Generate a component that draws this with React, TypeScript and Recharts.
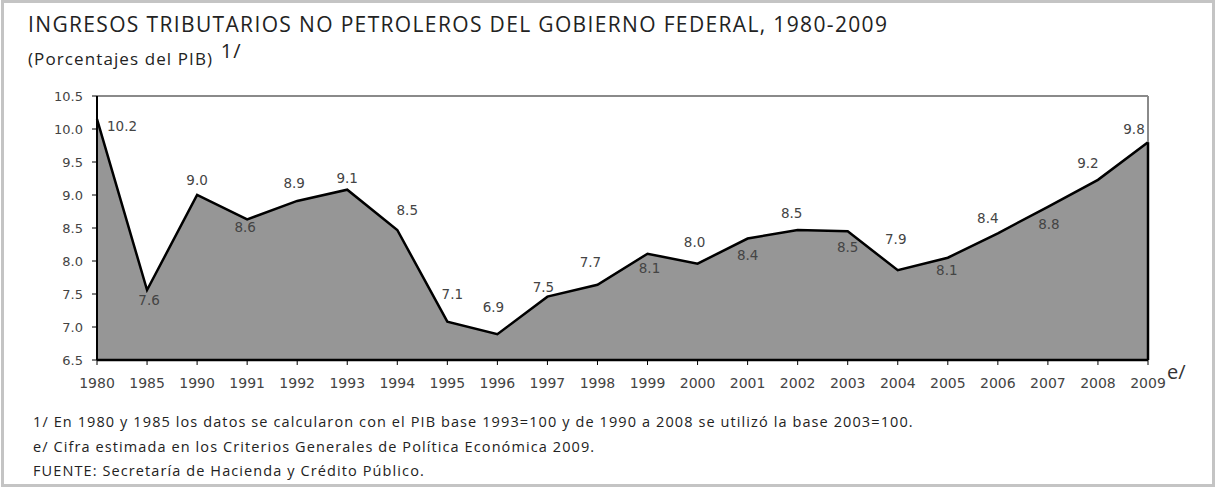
import { AreaChart, Area, XAxis, YAxis, ReferenceLine, LabelList } from 'recharts';

const YEARS = ['1980', '1985', '1990', '1991', '1992', '1993', '1994', '1995', '1996', '1997', '1998', '1999', '2000', '2001', '2002', '2003', '2004', '2005', '2006', '2007', '2008', '2009'];
const VALUES = [10.15, 7.56, 9.0, 8.63, 8.91, 9.08, 8.47, 7.08, 6.89, 7.46, 7.64, 8.11, 7.96, 8.34, 8.47, 8.45, 7.86, 8.05, 8.42, 8.82, 9.23, 9.8];
const LABELS = ['10.2', '7.6', '9.0', '8.6', '8.9', '9.1', '8.5', '7.1', '6.9', '7.5', '7.7', '8.1', '8.0', '8.4', '8.5', '8.5', '7.9', '8.1', '8.4', '8.8', '9.2', '9.8'];
const Y_TICKS = [6.5, 7.0, 7.5, 8.0, 8.5, 9.0, 9.5, 10.0, 10.5];

// where each value label sits, relative to its point (dx, dy)
const LABEL_OFFSETS = [
  [25, 7], [2, 10], [0, -15], [-2, 8], [-3, -18], [0, -12], [10, -20], [5, -28], [-4, -27], [-4, -10], [-7, -23],
  [2, 14], [-3, -22], [0, 16], [-6, -17], [0, 16], [-2, -31], [-1, 12], [-10, -15], [1, 17], [-10, -17], [-14, -13],
];

const FOOTNOTES = [
  '1/ En 1980 y 1985 los datos se calcularon con el PIB base 1993=100 y de 1990 a 2008 se utilizó la base 2003=100.',
  'e/ Cifra estimada en los Criterios Generales de Política Económica 2009.',
  'FUENTE: Secretaría de Hacienda y Crédito Público.',
];

const data = YEARS.map((year, i) => ({ year, value: VALUES[i], label: LABELS[i] }));
const TEXT_FONT = '"Open Sans", "Noto Sans", sans-serif';
const AXIS_FONT = '"DejaVu Sans", sans-serif';

const valueLabel = (props: any) => {
  const { x, y, index } = props;
  const [dx, dy] = LABEL_OFFSETS[index] || [0, -12];
  return (
    <text x={x + dx} y={y + dy} dy={5} textAnchor="middle" fontSize={13.5} fontFamily={AXIS_FONT} fill="#444">
      {LABELS[index]}
    </text>
  );
};

const yearTick = (props: any) => {
  const { x, y, payload } = props;
  return (
    <g>
      <text x={x} y={y} dy={21} textAnchor="middle" fontSize={14} fontFamily={AXIS_FONT} fill="#444">
        {payload.value}
      </text>
      {payload.value === '2009' && (
        <text x={x + 19} y={y} dy={12} fontSize={20} fontFamily={TEXT_FONT} fill="#333">
          e/
        </text>
      )}
    </g>
  );
};

export default function App() {
  return (
    <div
      style={{
        position: 'absolute',
        left: 0,
        top: 0,
        width: 1216,
        height: 487,
        background: '#fff',
        fontFamily: TEXT_FONT,
        color: '#222',
      }}
    >
      <div
        style={{
          position: 'absolute',
          left: 1,
          top: 0,
          width: 1214,
          height: 487,
          border: '3px solid #c4c4c4',
          boxSizing: 'border-box',
        }}
      />
      <div
        style={{
          position: 'absolute',
          left: 28,
          top: 11,
          fontSize: 21,
          letterSpacing: 1.35,
          whiteSpace: 'nowrap',
          lineHeight: '27px',
        }}
      >
        INGRESOS TRIBUTARIOS NO PETROLEROS DEL GOBIERNO FEDERAL, 1980-2009
      </div>
      <div
        style={{
          position: 'absolute',
          left: 28,
          top: 46,
          fontSize: 17,
          letterSpacing: 1.1,
          whiteSpace: 'nowrap',
          lineHeight: '24px',
        }}
      >
        (Porcentajes del PIB) <span style={{ fontSize: 20, position: 'relative', top: -7, marginLeft: 2 }}>1/</span>
      </div>

      <div style={{ position: 'absolute', left: 0, top: 0 }}>
        <AreaChart width={1216} height={400} data={data} margin={{ top: 96, right: 68, bottom: 10, left: 37 }}>
          <XAxis
            dataKey="year"
            tick={yearTick}
            tickSize={5}
            tickLine={{ stroke: '#000' }}
            axisLine={{ stroke: '#000', strokeWidth: 2.5 }}
            interval={0}
            height={30}
          />
          <YAxis
            domain={[6.5, 10.5]}
            ticks={Y_TICKS}
            tickFormatter={(v) => v.toFixed(1)}
            tick={{ fontSize: 13, fontFamily: AXIS_FONT, fill: '#444' }}
            tickSize={5}
            tickMargin={9}
            tickLine={{ stroke: '#000' }}
            axisLine={{ stroke: '#000', strokeWidth: 2 }}
            width={60}
            allowDataOverflow
          />
          <ReferenceLine y={10.5} stroke="#8a8a8a" strokeWidth={2} />
          <ReferenceLine
            segment={[
              { x: YEARS[YEARS.length - 1], y: VALUES[VALUES.length - 1] },
              { x: YEARS[YEARS.length - 1], y: 10.5 },
            ]}
            stroke="#8a8a8a"
            strokeWidth={2}
          />
          <Area
            type="linear"
            dataKey="value"
            fill="#969696"
            fillOpacity={1}
            stroke="#000"
            strokeWidth={2.5}
            baseValue={6.5}
            isAnimationActive={false}
            dot={false}
            activeDot={false}
          >
            <LabelList dataKey="label" content={valueLabel} />
          </Area>
          <ReferenceLine
            segment={[
              { x: YEARS[YEARS.length - 1], y: 6.5 },
              { x: YEARS[YEARS.length - 1], y: VALUES[VALUES.length - 1] },
            ]}
            stroke="#000"
            strokeWidth={2.5}
          />
        </AreaChart>
      </div>

      {FOOTNOTES.map((line, i) => (
        <div
          key={i}
          style={{
            position: 'absolute',
            left: 33,
            top: 412 + i * 24.5,
            fontSize: 14.5,
            letterSpacing: 1.1,
            lineHeight: '20px',
            whiteSpace: 'nowrap',
          }}
        >
          {line}
        </div>
      ))}
    </div>
  );
}
